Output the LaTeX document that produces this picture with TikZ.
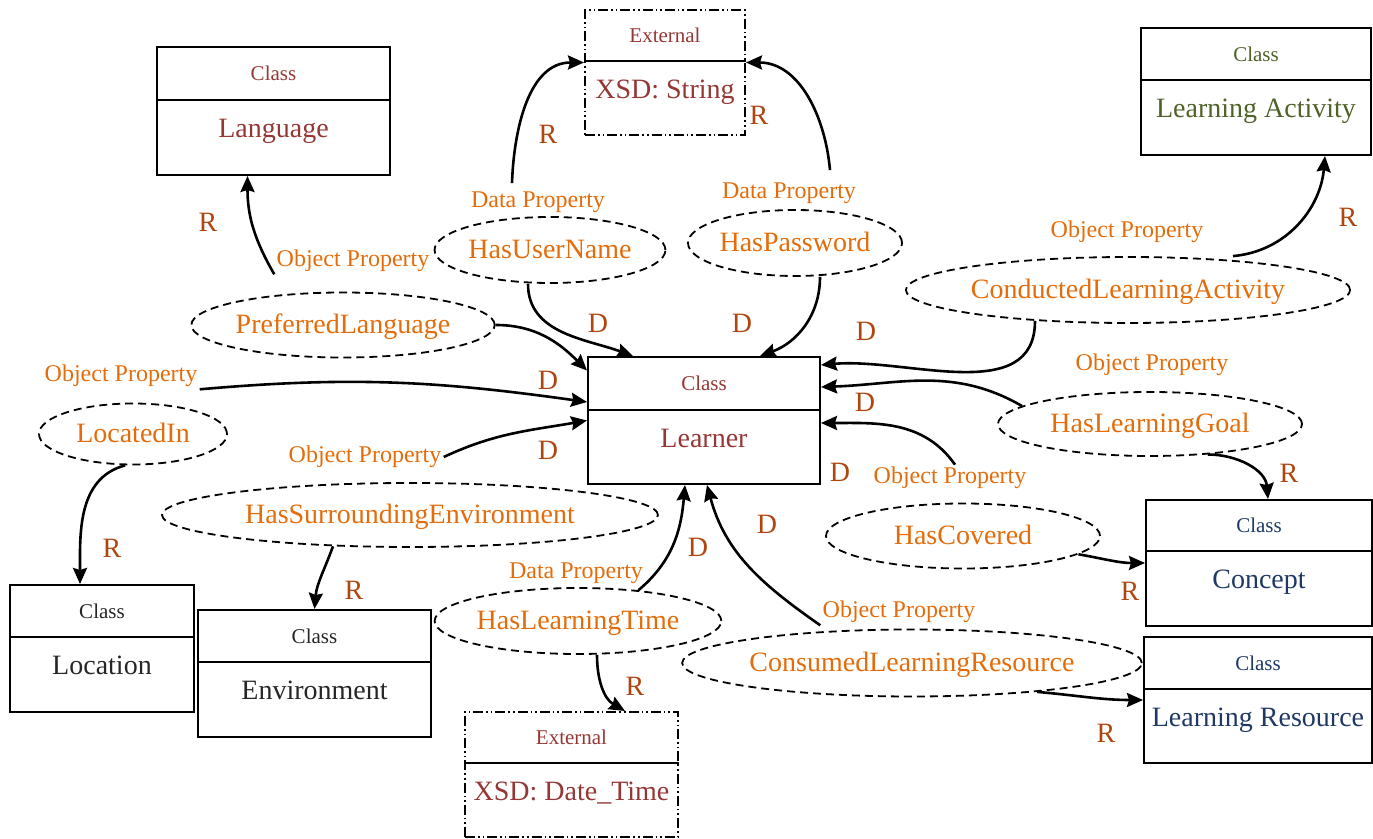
\documentclass[tikz,border=0pt]{standalone}
\usepackage{fontspec}
\setmainfont{Liberation Serif}
\usetikzlibrary{shapes.geometric,arrows.meta}
\definecolor{dred}{RGB}{149,55,53}
\definecolor{olive}{RGB}{79,98,40}
\definecolor{navy}{RGB}{31,56,100}
\definecolor{dgray}{RGB}{38,38,38}
\definecolor{porange}{RGB}{228,108,10}
\definecolor{rdbrown}{RGB}{175,70,15}
\tikzset{
  boxframe/.style={draw, line width=1pt, inner sep=0pt},
  extframe/.style={draw, line width=1pt, inner sep=0pt, dash pattern=on 5pt off 1.5pt on 0.8pt off 1.5pt on 0.8pt off 1.5pt},
  divider/.style={line width=1pt},
  toplab/.style={font=\fontsize{10.5}{12}\selectfont, inner sep=0pt},
  mainlab/.style={font=\fontsize{14}{16}\selectfont, inner sep=0pt, text height=11pt, text depth=2pt},
  prop/.style={ellipse, draw, line width=0.9pt, dash pattern=on 4pt off 2.5pt, text=porange, font=\fontsize{14}{16}\selectfont, inner sep=0pt, text height=11pt, text depth=2pt},
  ptype/.style={text=porange, font=\fontsize{12}{14}\selectfont, inner sep=1pt},
  rd/.style={text=rdbrown, font=\fontsize{14}{16}\selectfont, inner sep=0pt},
  link/.style={line width=1.3pt, -{Stealth[length=8pt,width=7pt,inset=1pt]}},
}
% name, cx, top, w, h, divider y, colour, main label
\newcommand{\classbox}[8]{%
  \node[boxframe, minimum width=#4*0.5pt, minimum height=#5*0.5pt] (#1) at ({#2},{#3+#5/2}) {};
  \draw[divider] (#1.west |- 0,#6) -- (#1.east |- 0,#6);
  \node[toplab, text=#7] (#1-top) at ({#2},{(#3+#6)/2}) {Class};
  \node[mainlab, text=#7] (#1-name) at ({#2},{#6+29}) {#8};
}
\newcommand{\extbox}[8]{%
  \node[extframe, minimum width=#4*0.5pt, minimum height=#5*0.5pt] (#1) at ({#2},{#3+#5/2}) {};
  \draw[divider] (#1.west |- 0,#6) -- (#1.east |- 0,#6);
  \node[toplab, text=#7] (#1-top) at ({#2},{(#3+#6)/2}) {External};
  \node[mainlab, text=#7] (#1-name) at ({#2},{#6+29}) {#8};
}
\begin{document}
\begin{tikzpicture}[x=0.5pt,y=-0.5pt]
\useasboundingbox (0,0) rectangle (1373,839);

% boxes
\classbox{lang}{273.5}{47}{233}{128}{100}{dred}{Language}
\extbox{xsd1}{665}{10}{160}{125}{61}{dred}{XSD: String}
\classbox{la}{1256}{28}{230}{127}{80}{olive}{Learning Activity}
\classbox{lrn}{704}{357}{232}{127}{410}{dred}{Learner}
\classbox{con}{1259}{500}{226}{126}{551}{navy}{Concept}
\classbox{lr}{1258}{637}{228}{126}{689}{navy}{Learning Resource}
\classbox{loc}{102}{585}{184}{127}{637}{dgray}{Location}
\classbox{env}{314.5}{610}{233}{127}{662}{dgray}{Environment}
\extbox{xsd2}{571.5}{712}{213}{125}{763}{dred}{XSD: Date\_Time}

% property ellipses
\node[prop, minimum width=113pt, minimum height=33pt] (hun) at (550,250) {HasUserName};
\node[prop, minimum width=107pt, minimum height=33pt] (hpw) at (795,243) {HasPassword};
\node[prop, minimum width=150pt, minimum height=32.5pt] (ppl) at (343,325) {PreferredLanguage};
\node[prop, minimum width=222pt, minimum height=33pt] (cla) at (1128,290) {ConductedLearningActivity};
\node[prop, minimum width=94pt, minimum height=30.5pt] (li) at (133,434) {LocatedIn};
\node[prop, minimum width=152pt, minimum height=32pt] (hlg) at (1150,424) {HasLearningGoal};
\node[prop, minimum width=248pt, minimum height=32pt] (hse) at (410,515) {HasSurroundingEnvironment};
\node[prop, minimum width=137pt, minimum height=32.5pt] (hc) at (963,536) {HasCovered};
\node[prop, minimum width=143pt, minimum height=33pt] (hlt) at (578,621) {HasLearningTime};
\node[prop, minimum width=229pt, minimum height=33.5pt] (clr) at (912,663) {ConsumedLearningResource};

% property type labels
\node[ptype] (dpUN) at (538,202) {Data Property};
\node[ptype] (dpPW) at (789,193) {Data Property};
\node[ptype] (opPL) at (353,261) {Object Property};
\node[ptype] (opCLA) at (1127,232) {Object Property};
\node[ptype] (opLI) at (121,376) {Object Property};
\node[ptype] (opHLG) at (1152,365) {Object Property};
\node[ptype] (opHSE) at (365,457) {Object Property};
\node[ptype] (opHC) at (950,478) {Object Property};
\node[ptype] (dpLT) at (576,573) {Data Property};
\node[ptype] (opCLR) at (899,612) {Object Property};

% R / D labels
\node[rd] (r1) at (208,222) {R};
\node[rd] (r2) at (548,134) {R};
\node[rd] (r3) at (759,115) {R};
\node[rd] (r4) at (1348,217) {R};
\node[rd] (r5) at (112,548) {R};
\node[rd] (r6) at (354,590) {R};
\node[rd] (r7) at (635,686) {R};
\node[rd] (r8) at (1289,473) {R};
\node[rd] (r9) at (1130,591) {R};
\node[rd] (r10) at (1106,733) {R};
\node[rd] (d1) at (598,323) {D};
\node[rd] (d2) at (742,323) {D};
\node[rd] (d3) at (866,331) {D};
\node[rd] (d4) at (548,380) {D};
\node[rd] (d5) at (548,450) {D};
\node[rd] (d6) at (865,402) {D};
\node[rd] (d7) at (840,472) {D};
\node[rd] (d8) at (698,547) {D};
\node[rd] (d9) at (767,524) {D};

% connectors
\draw[link] (opPL.south west) to[out=120,in=-90] ([xshift=-13pt]lang.south);
\draw[link] ([xshift=-13pt,yshift=3pt]dpUN.north) to[out=88,in=180] ([yshift=5pt]xsd1.west);
\draw[link] ([xshift=20.5pt,yshift=5pt]dpPW.north) to[out=95,in=0] ([yshift=5pt]xsd1.east);
\draw[link] ([xshift=-11pt]hun.south) to[out=-90,in=160] ([xshift=-35.5pt]lrn.north);
\draw[link] ([xshift=12.5pt]hpw.south) to[out=-90,in=20] ([xshift=28pt]lrn.north);
\draw[link] (ppl.east) to[out=0,in=135] ([yshift=25pt]lrn.west);
\draw[link] ([xshift=-46.5pt,yshift=1.5pt]cla.south) to[out=-90,in=5] ([yshift=27.75pt]lrn.east);
\draw[link] ([xshift=52.5pt]cla.north) to[out=5,in=-95] ([xshift=34.5pt]la.south);
\draw[link] (opLI.south east) to[out=5,in=172] ([yshift=9.25pt]lrn.west);
\draw[link] (opHSE.east) to[out=25,in=190] (lrn.west);
\draw[link] (hlg.172.5) to[out=150,in=2] ([yshift=16.75pt]lrn.east);
\draw[link] ([xshift=2.5pt]opHC.north) to[out=125,in=0] ([yshift=-1.25pt]lrn.east);
\draw[link] (hlt.27) to[out=40,in=-95] ([xshift=-9.5pt]lrn.south);
\draw[link] (opCLR.south west) to[out=145,in=-75] ([xshift=1.5pt]lrn.south);
\draw[link] ([xshift=-4pt]li.south) to[out=195,in=90] ([xshift=-11pt]loc.north);
\draw[link] ([xshift=-38.5pt,yshift=0.8pt]hse.south) to[out=-110,in=85] (env.north);
\draw[link] ([xshift=9.5pt]hlt.south) to[out=-90,in=150] ([xshift=26.75pt]xsd2.north);
\draw[link] ([xshift=29pt,yshift=1.2pt]hlg.south) to[out=0,in=95] ([xshift=4.5pt]con.north);
\draw[link] (hc.-9.6) to[out=-10,in=180] (con.west);
\draw[link] (clr.-13.5) to[out=-5,in=180] (lr.west);
\end{tikzpicture}
\end{document}
